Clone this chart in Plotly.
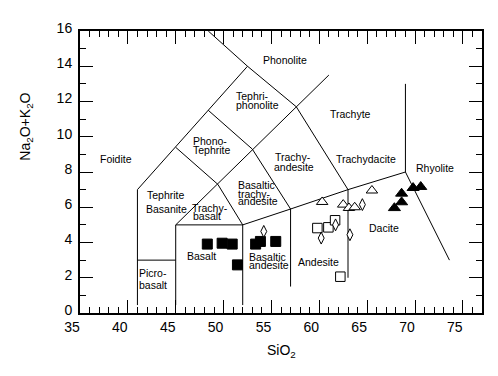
import plotly.graph_objects as go

# ---- data ----
# filled squares
sq_fill_x = [48.3, 49.85, 50.9, 51.45, 53.35, 53.85, 55.45]
sq_fill_y = [3.91, 3.96, 3.91, 2.73, 3.91, 4.06, 4.06]
# open squares
sq_open_x = [59.8, 60.95, 61.65, 62.2]
sq_open_y = [4.82, 4.86, 5.26, 2.06]
# open diamonds
dia_x = [54.2, 60.2, 61.7, 63.2, 64.5]
dia_y = [4.63, 4.25, 5.0, 4.44, 6.15]
# open triangles
tri_open_x = [60.3, 62.5, 63.1, 63.7, 65.5]
tri_open_y = [6.30, 6.15, 5.96, 6.0, 6.95]
# filled triangles
tri_fill_x = [67.85, 68.6, 68.6, 69.8, 70.6]
tri_fill_y = [5.96, 6.29, 6.78, 7.10, 7.16]

# TAS field boundaries (SiO2, Na2O+K2O) polylines
boundaries = [
    [(41, 0.45), (41, 7), (52.5, 14), (48.4, 16)],
    [(41, 3), (45, 3)],
    [(45, 0.45), (45, 5), (61, 13.5)],
    [(45, 5), (52, 5), (57, 5.9), (63, 7), (69, 8), (73.6, 3.0)],
    [(52, 0.45), (52, 5), (49.4, 7.3), (45, 9.4)],
    [(57, 1.5), (57, 5.9), (53, 9.3), (48.4, 11.5)],
    [(63, 2.0), (63, 7), (57.6, 11.7), (52.5, 14)],
    [(69, 8), (69, 13)],
]

# field labels: (text, x, y, anchor)
field_labels = [
    ("Phonolite", 56.4, 14.33, "center"),
    ("Tephri-", 51.07, 12.33, "left"),
    ("phonolite", 51.07, 11.82, "left"),
    ("Phono-", 46.6, 9.77, "left"),
    ("Tephrite", 46.6, 9.26, "left"),
    ("Foidite", 38.77, 8.75, "center"),
    ("Tephrite", 41.75, 6.67, "left"),
    ("Basanite", 41.65, 5.91, "left"),
    ("Trachy-", 46.45, 5.96, "left"),
    ("basalt", 46.6, 5.53, "left"),
    ("Basalt", 47.68, 3.25, "center"),
    ("Basaltic", 52.4, 3.15, "left"),
    ("andesite", 52.4, 2.71, "left"),
    ("Basaltic", 51.25, 7.27, "left"),
    ("trachy-", 51.25, 6.76, "left"),
    ("andesite", 51.25, 6.34, "left"),
    ("Trachy-", 55.2, 8.83, "left"),
    ("andesite", 55.1, 8.27, "left"),
    ("Trachyte", 63.3, 11.28, "center"),
    ("Trachydacite", 64.87, 8.76, "center"),
    ("Rhyolite", 72.1, 8.24, "center"),
    ("Dacite", 66.76, 4.82, "center"),
    ("Andesite", 59.9, 2.92, "center"),
    ("Picro-", 40.94, 2.25, "left"),
    ("basalt", 40.94, 1.59, "left"),
]

x_ticks = [35, 40, 45, 50, 55, 60, 65, 70, 75]
y_ticks = [0, 2, 4, 6, 8, 10, 12, 14, 16]

FONT = "Liberation Sans, Arial, sans-serif"

fig = go.Figure()

bx, by = [], []
for seg in boundaries:
    for (a, b) in seg:
        bx.append(a)
        by.append(b)
    bx.append(None)
    by.append(None)
fig.add_trace(go.Scatter(x=bx, y=by, mode="lines", line=dict(color="black", width=1),
                         hoverinfo="skip", showlegend=False))

def pts(x, y, symbol, size, filled):
    fig.add_trace(go.Scatter(
        x=x, y=y, mode="markers", showlegend=False,
        marker=dict(symbol=symbol, size=size,
                    color="black" if filled else "white",
                    line=dict(color="black", width=1))))

pts(sq_fill_x, sq_fill_y, "square", 10, True)
pts(sq_open_x, sq_open_y, "square", 9.5, False)
pts(dia_x, dia_y, "diamond-tall", 8.5, False)
pts(tri_open_x, tri_open_y, "triangle-up", 10, False)
pts(tri_fill_x, tri_fill_y, "triangle-up", 10.5, True)

for (t, x, y, anc) in field_labels:
    fig.add_annotation(x=x, y=y, text=t, showarrow=False, xanchor=anc, yanchor="middle",
                       font=dict(family=FONT, size=10.5, color="black"))

# page offset: browser body margin of 8 px; figure is sized so the plot area
# lands at window pixels x 80..482, y 24..305
OFF = 8
W, H = 498 - OFF, 376 - OFF
l, r, t, b = 80 - OFF, 16, 24 - OFF, 71 - OFF
pw, ph = W - l - r, H - t - b

def paper(px, py):
    return (px - OFF - l) / pw, 1 - (py - OFF - t) / ph

sx, sy = paper(281, 352)
fig.add_annotation(x=sx, y=sy, xref="paper", yref="paper", text="SiO<sub>2</sub>",
                   xanchor="center", yanchor="middle",
                   showarrow=False, font=dict(family=FONT, size=14, color="black"))
nx, ny = paper(26, 122)
fig.add_annotation(x=nx, y=ny, xref="paper", yref="paper", text="Na<sub>2</sub>O+K<sub>2</sub>O",
                   xanchor="center", yanchor="middle",
                   textangle=-90, showarrow=False, font=dict(family=FONT, size=14, color="black"))

axis_common = dict(
    showgrid=False, zeroline=False, showline=True, linecolor="black", linewidth=2,
    mirror="ticks", ticks="inside", ticklen=13, tickwidth=1, tickcolor="black",
    tickfont=dict(family=FONT, size=14, color="black"),
)
fig.update_xaxes(range=[35, 77], tickvals=x_ticks, ticktext=[str(v) for v in x_ticks],
                 minor=dict(dtick=1, tick0=35, ticks="inside", ticklen=6, tickcolor="black", tickwidth=1),
                 ticklabelshift=-8, ticklabelstandoff=0, **axis_common)
fig.update_yaxes(range=[0, 16], tickvals=y_ticks, ticktext=[str(v) for v in y_ticks],
                 minor=dict(dtick=1, tick0=0, ticks="inside", ticklen=6, tickcolor="black", tickwidth=1),
                 ticklabelshift=-3, ticklabelstandoff=3, **axis_common)

fig.update_layout(
    width=W, height=H,
    margin=dict(l=l, r=r, t=t, b=b),
    paper_bgcolor="white", plot_bgcolor="white",
    showlegend=False,
)

fig.write_html("out.html")
